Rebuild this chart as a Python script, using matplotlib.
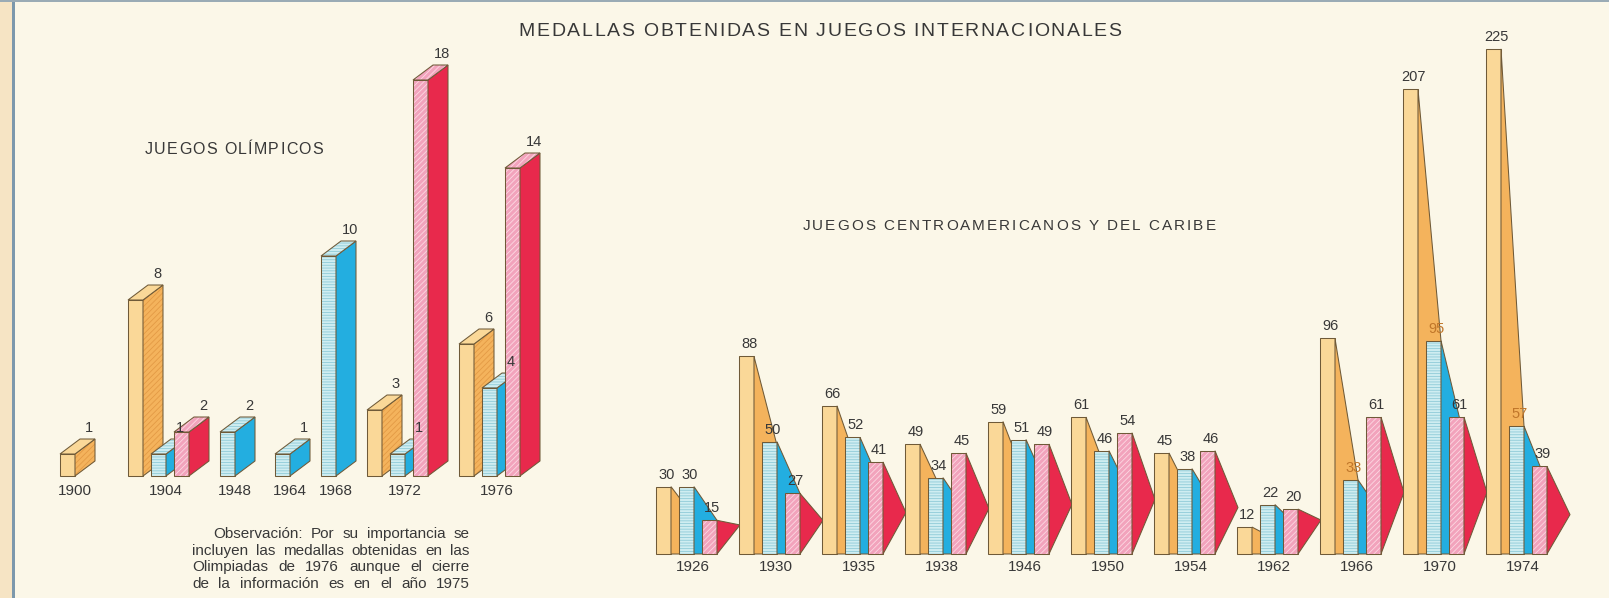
import matplotlib
matplotlib.use('Agg')
import matplotlib.pyplot as plt
from matplotlib.patches import Polygon, Rectangle
from matplotlib.font_manager import FontProperties
from matplotlib.textpath import TextToPath

# datos: juegos olimpicos (naranja / azul / rojo)
olim_anios = ['1900', '1904', '1948', '1964', '1968', '1972', '1976']
olim_naranja = [1, 8, 0, 0, 0, 3, 6]
olim_azul = [0, 1, 2, 1, 10, 1, 4]
olim_rojo = [0, 2, 0, 0, 0, 18, 14]

# datos: juegos centroamericanos y del caribe
cac_anios = ['1926', '1930', '1935', '1938', '1946', '1950', '1954', '1962', '1966', '1970', '1974']
cac_naranja = [30, 88, 66, 49, 59, 61, 45, 12, 96, 207, 225]
cac_azul = [30, 50, 52, 34, 51, 46, 38, 22, 33, 95, 57]
cac_rojo = [15, 27, 41, 45, 49, 54, 46, 20, 61, 61, 39]

titulo = 'MEDALLAS OBTENIDAS EN JUEGOS INTERNACIONALES'
sub_olim = 'JUEGOS OLÍMPICOS'
sub_cac = 'JUEGOS CENTROAMERICANOS Y DEL CARIBE'
nota = ['Observación: Por su importancia se',
        'incluyen las medallas obtenidas en las',
        'Olimpiadas de 1976 aunque el cierre',
        'de la información es en el año 1975']

# layout in pixels
W, H = 1609, 598
olim_inicio = [60, 128, 220, 275, 321, 367, 459]   # left edge of each group
olim_base, olim_esc = 476, 22.0                    # baseline row, px per medal
cac_x0, cac_paso = 656, 83
cac_base, cac_esc = 554, 2.245
BW, STEP = 15, 23      # bar front width, step between bars
DX, DY = 20, 15        # 3d depth (left panel)
DR = 23                # red wedge length (right panel)

FONT = 'Liberation Sans'
TXT = '#383838'
EDGE = '#6f5a38'
BG = '#fbf7e8'
FRONT = {'n': '#fad898', 'a': '#cfedf1', 'r': '#f2a3bc'}
SIDE = {'n': '#f4b35c', 'a': '#23aee0', 'r': '#e8294c'}
FRONT_HATCH = {'n': (None, None), 'a': ('------', '#8fcbd8'), 'r': ('//////', '#fcd9e3')}

plt.rcParams['hatch.linewidth'] = 0.6

ttp = TextToPath()


def ancho(s, size):
    fp = FontProperties(family=FONT, size=size)
    w, _, _ = ttp.get_text_width_height_descent(s, fp, ismath=False)
    return w * 100 / 72


# text with letter spacing, fitted to a given width
def espaciado(ax, xc, y, s, size, total):
    adv = [ancho('H' + ch + 'H', size) - ancho('HH', size) for ch in s]
    track = (total - sum(adv)) / (len(s) - 1)
    x = xc - total / 2
    for ch, a in zip(s, adv):
        ax.text(x + a / 2, y, ch, ha='center', va='baseline', fontsize=size,
                family=FONT, color=TXT)
        x += a + track


# justified line of text
def justificado(ax, x0, x1, y, linea, size):
    palabras = linea.split()
    ws = [ancho(p, size) for p in palabras]
    gap = (x1 - x0 - sum(ws)) / (len(palabras) - 1)
    x = x0
    for p, w in zip(palabras, ws):
        ax.text(x, y, p, ha='left', va='baseline', fontsize=size, family=FONT, color=TXT)
        x += w + gap


def face(ax, xy, fc, hatch=None, hc=None):
    ax.add_patch(Polygon(xy, closed=True, facecolor=fc, edgecolor='none', lw=0))
    if hatch:
        ax.add_patch(Polygon(xy, closed=True, facecolor='none', edgecolor=hc, lw=0, hatch=hatch))
    ax.add_patch(Polygon(xy, closed=True, facecolor='none', edgecolor=EDGE, lw=0.75,
                         joinstyle='miter'))


def panel_ax(base, esc):
    ax = fig.add_axes([0, 0, 1, 1])
    ax.set_xlim(0, W)
    ax.set_ylim(-(H - base) / esc, base / esc)
    ax.axis('off')
    return ax


fig = plt.figure(figsize=(W / 100, H / 100), dpi=100, facecolor=BG)

# background, frame and texts (pixel coords)
bg = fig.add_axes([0, 0, 1, 1])
bg.set_xlim(0, W)
bg.set_ylim(H, 0)
bg.axis('off')
bg.add_patch(Rectangle((0, 0), 12, H, facecolor='#f6e4c4', edgecolor='none'))
bg.add_patch(Rectangle((12.5, 0), 2.5, H, facecolor='#7c98ac', edgecolor='none'))
bg.add_patch(Rectangle((0, 0), W, 2, facecolor='#9aabb5', edgecolor='none'))

espaciado(bg, 820, 36, titulo, 14, 603)
espaciado(bg, 234, 154, sub_olim, 11.5, 178)
espaciado(bg, 1009, 230, sub_cac, 11, 413)
for i, linea in enumerate(nota):
    x0 = 213 if i == 0 else 192
    justificado(bg, x0, 470, 538 + i * 16.7, linea, 11)

# juegos olimpicos
ax1 = panel_ax(olim_base, olim_esc)
dy = DY / olim_esc
for i, anio in enumerate(olim_anios):
    x = olim_inicio[i]
    barras = [(v, k) for v, k in zip([olim_naranja[i], olim_azul[i], olim_rojo[i]], 'nar') if v > 0]
    for v, k in barras:
        front = [(x, 0), (x + BW, 0), (x + BW, v), (x, v)]
        side = [(x + BW, 0), (x + BW + DX, dy), (x + BW + DX, v + dy), (x + BW, v)]
        top = [(x, v), (x + DX, v + dy), (x + BW + DX, v + dy), (x + BW, v)]
        face(ax1, front, FRONT[k], *FRONT_HATCH[k])
        if k == 'n':
            face(ax1, side, SIDE[k], '//////', '#e39a45')
        else:
            face(ax1, side, SIDE[k])
        face(ax1, top, FRONT[k], *FRONT_HATCH[k])
        ax1.text(x + BW + 14, v + dy + 4 / olim_esc, str(v), ha='center', va='bottom',
                 fontsize=10.5, family=FONT, color=TXT, zorder=5)
        x += STEP
    fin = x - STEP + BW + DX
    ax1.text((olim_inicio[i] + fin) / 2 - 3, -15 / olim_esc, anio, ha='center', va='center',
             fontsize=11, family=FONT, color=TXT)

# juegos centroamericanos
ax2 = panel_ax(cac_base, cac_esc)
for i, anio in enumerate(cac_anios):
    x0 = cac_x0 + cac_paso * i
    vals = [cac_naranja[i], cac_azul[i], cac_rojo[i]]
    prev = None
    for j, k in enumerate('nar'):
        x = x0 + j * STEP
        v = vals[j]
        face(ax2, [(x, 0), (x + BW, 0), (x + BW, v), (x, v)], FRONT[k], *FRONT_HATCH[k])
        if j < 2:
            xe, he = x + STEP + BW, min(vals[j + 1], 0.55 * v)
            face(ax2, [(x + BW, 0), (x + BW, v), (xe, he), (xe, 0)], SIDE[k])
        else:
            # small bars keep a flatter tip
            caida = 0.55 * v * min(1.0, (v / 30.0) ** 2)
            face(ax2, [(x + BW, 0), (x + BW, v), (x + BW + DR, v - caida)], SIDE[k])
        lx, ly = x + BW / 2 + 3, v + 5 / cac_esc
        color = TXT
        if j == 1:
            (xa, ya), (xb, yb) = prev
            if ya + (yb - ya) * (lx - xa) / (xb - xa) > ly + 12 / cac_esc:
                color = '#c0762a'
        ax2.text(lx, ly, str(v), ha='center', va='bottom', fontsize=10.5, family=FONT,
                 color=color, zorder=5)
        prev = ((x + BW, v), (xe, he))
    ax2.text(x0 + 37, -13 / cac_esc, anio, ha='center', va='center', fontsize=11,
             family=FONT, color=TXT)

fig.savefig('out.png', dpi=100, facecolor=BG)
